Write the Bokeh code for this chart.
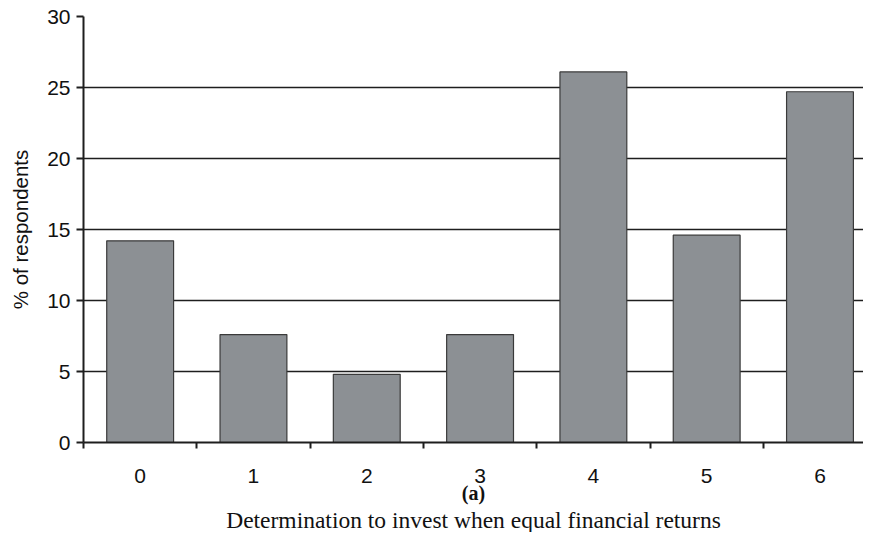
from bokeh.plotting import figure
from bokeh.models import FixedTicker, Range1d, Title, ColumnDataSource
from bokeh.embed import file_html
from bokeh.resources import INLINE

categories = [0, 1, 2, 3, 4, 5, 6]
values = [14.2, 7.6, 4.8, 7.6, 26.1, 14.6, 24.7]
y_ticks = [0, 5, 10, 15, 20, 25, 30]

src = ColumnDataSource(dict(x=categories, top=values))

p = figure(width=863, height=532, output_backend="svg", toolbar_location=None,
           x_range=Range1d(-0.5, 6.384), y_range=Range1d(0, 30),
           min_border_left=83, min_border_right=0, min_border_top=16,
           min_border_bottom=90)
p.outline_line_color = None
p.background_fill_color = "white"
p.border_fill_color = "white"

p.vbar(x="x", top="top", width=0.59, bottom=0, source=src,
       fill_color="#8c9094", line_color="#3a3a3a", line_width=1.2)

p.xgrid.grid_line_color = None
p.ygrid.ticker = FixedTicker(ticks=y_ticks)
p.ygrid.grid_line_color = "#1e1e1e"
p.ygrid.grid_line_width = 1.5

xa = p.xaxis[0]
xa.ticker = FixedTicker(ticks=categories, minor_ticks=[-0.5 + i for i in range(8)])
xa.major_tick_out = 0
xa.major_tick_in = 0
xa.minor_tick_out = 6
xa.minor_tick_in = 0
xa.minor_tick_line_color = "#1e1e1e"
xa.minor_tick_line_width = 2
xa.axis_line_color = "#1e1e1e"
xa.axis_line_width = 2
xa.major_label_text_font = "Liberation Sans"
xa.major_label_text_font_size = "21px"
xa.major_label_text_color = "#111111"
xa.major_label_standoff = 20
xa.axis_label = "(a)"
xa.axis_label_text_font = "Liberation Serif"
xa.axis_label_text_font_style = "bold"
xa.axis_label_text_font_size = "20px"
xa.axis_label_text_color = "#111111"
xa.axis_label_standoff = -4

ya = p.yaxis[0]
ya.ticker = FixedTicker(ticks=y_ticks)
ya.major_tick_out = 7
ya.major_tick_in = 0
ya.minor_tick_line_color = None
ya.major_tick_line_color = "#1e1e1e"
ya.major_tick_line_width = 2
ya.axis_line_color = "#1e1e1e"
ya.axis_line_width = 2
ya.major_label_text_font = "Liberation Sans"
ya.major_label_text_font_size = "21px"
ya.major_label_text_color = "#111111"
ya.major_label_standoff = 6
ya.axis_label = "% of respondents"
ya.axis_label_text_font = "Liberation Sans"
ya.axis_label_text_font_style = "normal"
ya.axis_label_text_font_size = "20.5px"
ya.axis_label_text_color = "#111111"
ya.axis_label_standoff = 12

p.add_layout(Title(text="Determination to invest when equal financial returns",
                   align="center", text_font="Liberation Serif",
                   text_font_size="23.5px", text_font_style="normal",
                   text_color="#111111", standoff=-4), "below")

open("out.html", "w").write(file_html(p, INLINE))
